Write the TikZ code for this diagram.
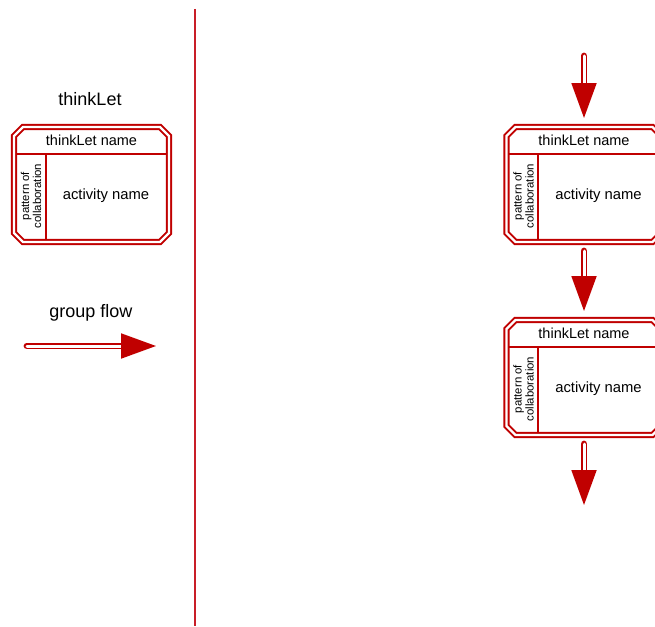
\documentclass[tikz,border=0pt]{standalone}
\usepackage{fontspec}
\setmainfont{Liberation Sans}
\usetikzlibrary{arrows.meta}

\definecolor{tlred}{RGB}{192,0,0}
\definecolor{sepred}{RGB}{200,30,40}

% one thinkLet box; #1 name, (#2,#3) top left corner
\newcommand{\thinklet}[3]{%
  \begin{scope}[shift={(#2,#3)}]
    \draw[tlframe] (9,0) -- (146,0) -- (155,9) -- (155,106) -- (146,115)
      -- (9,115) -- (0,106) -- (0,9) -- cycle;
    \draw[tlrule] (2.1,26.5) -- (152.9,26.5);
    \draw[tlrule] (31.5,26.5) -- (31.5,112.9);
    \node[tltitle] (#1 title) at (77.5,13) {thinkLet name};
    \node[tlact] (#1 act) at (92,69) {activity name};
    \node[tlpat] (#1 pat) at (17,69) {pattern of\\collaboration};
    \coordinate (#1 top) at (77.5,0);
    \coordinate (#1 bot) at (77.5,115);
  \end{scope}}

\begin{document}
\begin{tikzpicture}[x=1pt, y=-1pt,
    tlframe/.style={draw=tlred, line width=1.9pt, double=white, double distance=2.4pt},
    tlrule/.style={draw=tlred, line width=2pt},
    tltitle/.style={font=\fontsize{14.5}{16}\selectfont, inner sep=0pt},
    tlact/.style={font=\fontsize{14.8}{16}\selectfont, inner sep=0pt},
    tlpat/.style={font=\fontsize{11.4}{12}\selectfont, rotate=90, align=center, inner sep=0pt},
    legend/.style={font=\fontsize{18}{20}\selectfont, inner sep=0pt},
    flow/.style={draw=tlred, line width=1.9pt, double=white, double distance=3pt,
      line cap=round, -{Triangle[length=35pt, width=25pt, fill=tlred]}}]
  \useasboundingbox (0,0) rectangle (655,626);
  \clip (0,0) rectangle (655,626);

  % legend
  \node[legend] (legend) at (90,99) {thinkLet};
  \thinklet{key}{14}{127}
  \node[legend] (flowlabel) at (91,313) {group flow};
  \coordinate (flowstart) at (27,346);
  \coordinate (flowend) at (156,346);
  \draw[flow] (flowstart) -- (flowend);

  % separator
  \coordinate (septop) at (195,9);
  \coordinate (sepbot) at (195,626);
  \draw[sepred, line width=1.3pt] (septop) -- (sepbot);

  % sequence
  \thinklet{first}{506.5}{127}
  \thinklet{second}{506.5}{320}
  \coordinate (in) at (584,56);
  \coordinate (out) at (584,505);
  \draw[flow, shorten >=9pt] (in) -- (first top);
  \draw[flow, shorten <=9pt, shorten >=9pt] (first bot) -- (second top);
  \draw[flow, shorten <=9pt] (second bot) -- (out);
\end{tikzpicture}
\end{document}
